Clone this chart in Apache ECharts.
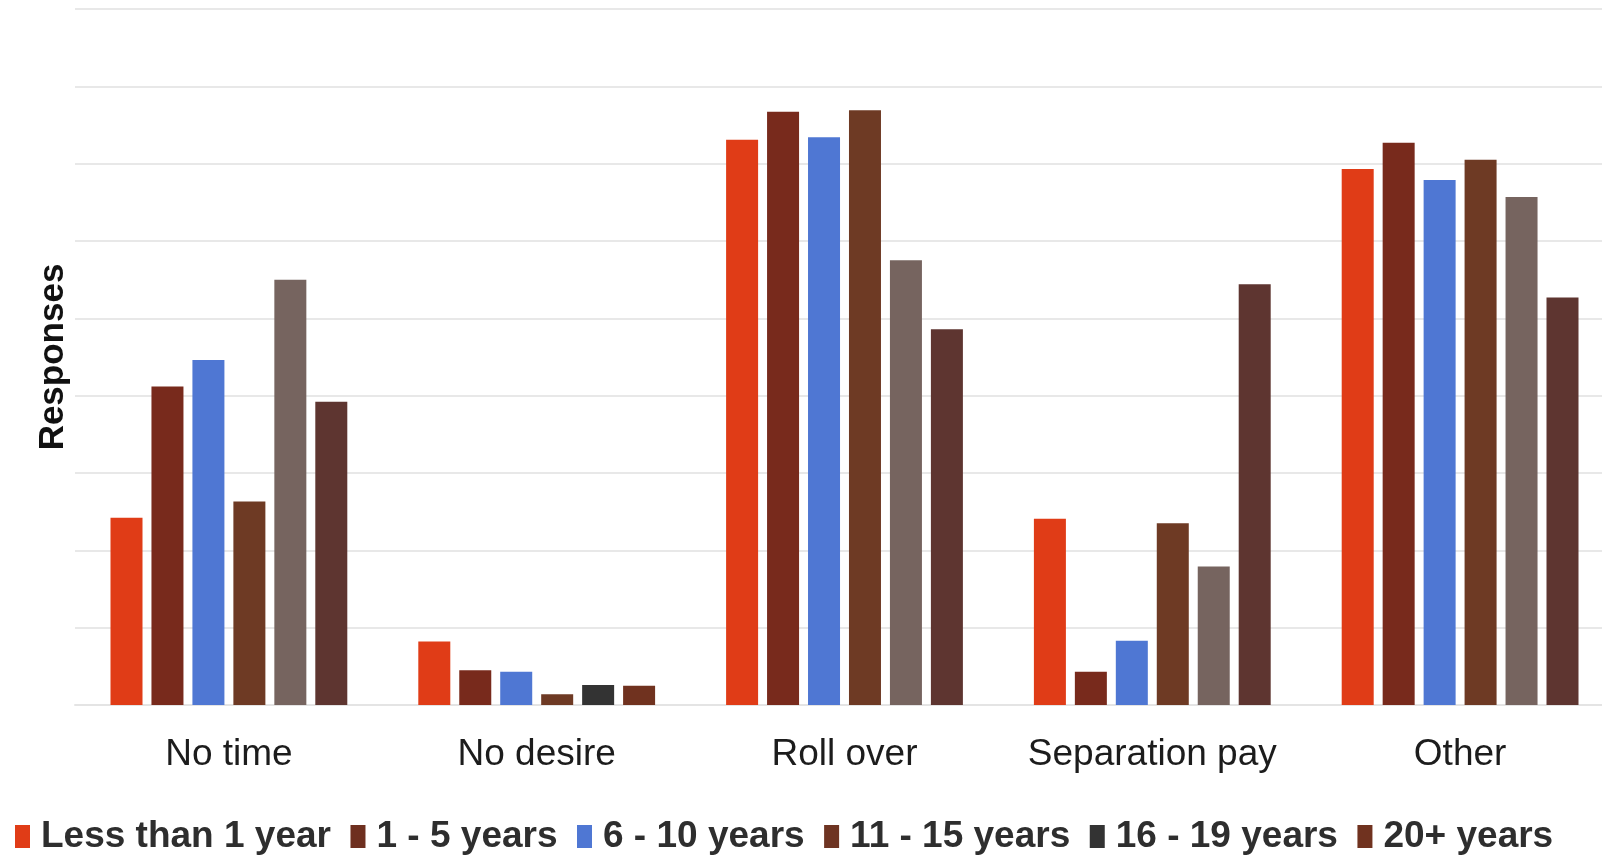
<!DOCTYPE html>
<html>
<head>
<meta charset="utf-8">
<style>
  html, body { margin: 0; padding: 0; background: #ffffff; overflow: hidden; }
  #chart { width: 1614px; height: 859px; }
</style>
<script src="https://cdn.jsdelivr.net/npm/echarts@6/dist/echarts.min.js"></script>
</head>
<body>
<div id="chart"></div>
<script>
// Reasons given, grouped by years of service
const categories = ['No time', 'No desire', 'Roll over', 'Separation pay', 'Other'];
const seriesNames = ['Less than 1 year', '1 - 5 years', '6 - 10 years', '11 - 15 years', '16 - 19 years', '20+ years'];

const lessThan1 = [24.2, 8.2, 73.1, 24.1, 69.3];
const years1to5 = [41.2, 4.5, 76.7, 4.3, 72.7];
const years6to10 = [44.6, 4.3, 73.4, 8.3, 67.9];
const years11to15 = [26.3, 1.4, 76.9, 23.5, 70.5];
const years16to19 = [55.0, 2.6, 57.5, 17.9, 65.7];
const years20plus = [39.2, 2.5, 48.6, 54.4, 52.7];

const seriesValues = [lessThan1, years1to5, years6to10, years11to15, years16to19, years20plus];

// Bar fill per series, with a few print-tone variations by category
const barColors = ['#e03c17', '#782a1c', '#4f77d3', '#6e3a24', '#76645f', '#5e3530'];
const barColorOverrides = {
  4: { 1: '#333333' },
  5: { 1: '#70321f' }
};
const legendColors = ['#e03c17', '#6e2f1f', '#4f77d3', '#6e3422', '#333333', '#70321f'];

const chart = echarts.init(document.getElementById('chart'), null, { renderer: 'canvas' });

const series = seriesValues.map((vals, si) => ({
  name: seriesNames[si],
  type: 'bar',
  data: vals,
  barWidth: 32,
  barGap: '28%',
  itemStyle: {
    color: (p) => (barColorOverrides[si] && barColorOverrides[si][p.dataIndex]) || barColors[si]
  },
  emphasis: { disabled: true }
}));

chart.setOption({
  backgroundColor: '#ffffff',
  animation: false,
  grid: { left: 75, top: 9, right: 0, bottom: 154, containLabel: false },
  legend: {
    left: 10,
    top: 813,
    itemWidth: 15,
    itemHeight: 23,
    itemGap: 19.5,
    icon: 'rect',
    data: seriesNames.map((n, i) => ({ name: n, itemStyle: { color: legendColors[i] } })),
    textStyle: {
      fontFamily: 'Liberation Sans, Arial, sans-serif',
      fontWeight: 'bold',
      fontSize: 37,
      color: '#2e2e2e',
      padding: [0, 0, 0, 6]
    }
  },
  xAxis: {
    type: 'category',
    data: categories,
    axisLine: { show: true, lineStyle: { color: '#e4e4e4', width: 2 } },
    axisTick: { show: false },
    axisLabel: {
      interval: 0,
      margin: 31,
      fontFamily: 'Liberation Sans, Arial, sans-serif',
      fontSize: 37,
      color: '#1c1c1c'
    }
  },
  yAxis: {
    type: 'value',
    min: 0,
    max: 90,
    interval: 10,
    name: 'Responses',
    nameLocation: 'middle',
    nameGap: 4,
    nameTextStyle: {
      fontFamily: 'Liberation Sans, Arial, sans-serif',
      fontWeight: 'bold',
      fontSize: 35,
      color: '#111111'
    },
    axisLine: { show: false },
    axisTick: { show: false },
    axisLabel: { show: false },
    splitLine: { show: true, lineStyle: { color: '#e8e8e8', width: 2 } }
  },
  series: series
});
</script>
</body>
</html>
